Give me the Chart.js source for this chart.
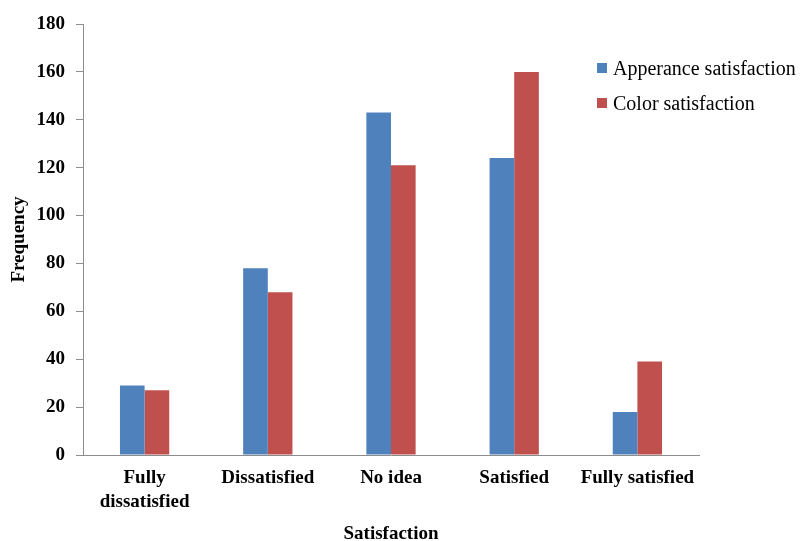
<!DOCTYPE html>
<html>
<head>
<meta charset="utf-8">
<script src="https://cdn.jsdelivr.net/npm/chart.js@4/dist/chart.umd.min.js"></script>
<style>
  body { margin: 0; background: #fff; }
  #wrap { position: relative; width: 800px; height: 541px; }
  #legend { position: absolute; left: 597px; top: 55px; font: 20px "Liberation Serif", serif; color: #000; }
  .item { display: flex; align-items: center; height: 26px; margin-bottom: 9px; white-space: nowrap; }
  .box { width: 10px; height: 10px; margin-right: 6px; }
</style>
</head>
<body>
<div id="wrap">
  <canvas id="satChart"></canvas>
  <div id="legend"></div>
</div>
<script>
const categories = [['Fully', 'dissatisfied'], 'Dissatisfied', 'No idea', 'Satisfied', 'Fully satisfied']
const appearance = [29, 78, 143, 124, 18]
const color = [27, 68, 121, 160, 39]
const seriesNames = ['Apperance satisfaction', 'Color satisfaction']
const seriesColors = ['#4F81BD', '#C0504D']
const yTicks = [0, 20, 40, 60, 80, 100, 120, 140, 160, 180]

const font = { family: '"Liberation Serif", "Times New Roman", serif', size: 19, weight: 'bold' }
const axisGray = '#8c8c8c'

let ctx = document.getElementById('satChart').getContext('2d')
let chart = new Chart(ctx, {
  type: 'bar',
  data: {
    labels: categories,
    datasets: [
      { label: seriesNames[0], data: appearance, backgroundColor: seriesColors[0] },
      { label: seriesNames[1], data: color, backgroundColor: seriesColors[1] }
    ]
  },
  options: {
    responsive: true,
    maintainAspectRatio: false,
    animation: false,
    categoryPercentage: 0.4,
    barPercentage: 1.0,
    layout: { padding: { top: 24, right: 101, left: 0, bottom: 0 } },
    plugins: { legend: { display: false }, tooltip: { enabled: false } },
    scales: {
      x: {
        grid: { display: false, drawTicks: false },
        border: { display: true, color: axisGray, width: 1 },
        ticks: { color: '#000', font: { ...font, lineHeight: 1.25 }, padding: 11, maxRotation: 0 },
        title: { display: true, text: 'Satisfaction', color: '#000', font: { ...font, lineHeight: 0.7 }, padding: { top: 0, bottom: 0 } },
        afterFit: s => { s.height = 86 }
      },
      y: {
        min: 0,
        max: 180,
        afterBuildTicks: s => { s.ticks = yTicks.map(v => ({ value: v })) },
        grid: { drawOnChartArea: false, drawTicks: true, tickLength: 7, color: axisGray },
        border: { display: true, color: axisGray, width: 1 },
        ticks: { color: '#000', font: font, padding: 11 },
        title: { display: true, text: 'Frequency', color: '#000', font: { ...font, lineHeight: 1 }, padding: { top: 10, bottom: 0 } },
        afterFit: s => { s.width = 83 }
      }
    }
  }
})

// legend built from the datasets
let legend = document.getElementById('legend')
chart.data.datasets.forEach(ds => {
  let row = document.createElement('div')
  row.className = 'item'
  row.innerHTML = '<span class="box" style="background:' + ds.backgroundColor + '"></span>' + ds.label
  legend.appendChild(row)
})
</script>
</body>
</html>
